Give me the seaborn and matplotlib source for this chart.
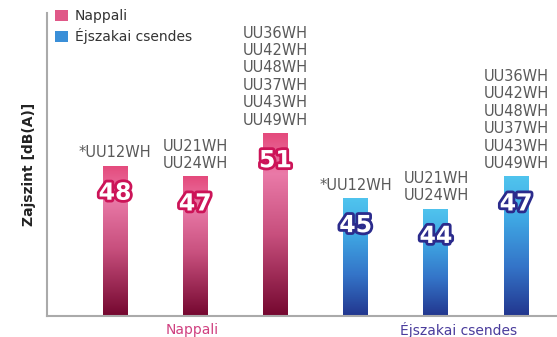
import numpy as np
import pandas as pd
import matplotlib
matplotlib.use("Agg")
import matplotlib.pyplot as plt
import seaborn as sns
from matplotlib.colors import LinearSegmentedColormap
from matplotlib.patches import Patch
import matplotlib.patheffects as pe

groups = ["Nappali", "Nappali", "Nappali", "Éjszakai csendes", "Éjszakai csendes", "Éjszakai csendes"]
values = [48, 47, 51, 45, 44, 47]
models = ["*UU12WH", "UU21WH\nUU24WH", "UU36WH\nUU42WH\nUU48WH\nUU37WH\nUU43WH\nUU49WH",
          "*UU12WH", "UU21WH\nUU24WH", "UU36WH\nUU42WH\nUU48WH\nUU37WH\nUU43WH\nUU49WH"]
positions = ["p1", "p2", "p3", "p4", "p5", "p6"]
group_labels = ["Nappali", "Éjszakai csendes"]
ylabel = "Zajszint [dB(A)]"

df = pd.DataFrame({"pos": positions, "value": values, "group": groups, "model": models})

sns.set_style("white")
plt.rcParams['font.family'] = ['DejaVu Sans']

fig = plt.figure(figsize=(5.57, 3.37), dpi=100)
ax = fig.add_axes([0.0844, 0.0623, 0.9156, 0.8987])

pink_cmap = LinearSegmentedColormap.from_list("pink", [(0, "#e44a7c"), (0.22, "#ea7aa8"), (0.55, "#c8507e"), (1, "#74072f")])
blue_cmap = LinearSegmentedColormap.from_list("blue", [(0, "#50c4ee"), (0.3, "#3fa8e4"), (0.65, "#3474c8"), (1, "#22368e")])
cmaps = {"Nappali": pink_cmap, "Éjszakai csendes": blue_cmap}

sns.barplot(data=df, x="pos", y="value", hue="group", palette={"Nappali": "#e06090", "Éjszakai csendes": "#3a90d8"},
            width=0.31, dodge=False, legend=False, ax=ax)

ymin, ymax = 34.1, 62.1
ax.set_ylim(ymin, ymax)
ax.set_xlim(-0.848, 5.51)

grad = np.linspace(0, 1, 256).reshape(-1, 1)
bars = [p for p in ax.patches if p.get_height() > 0]
bars.sort(key=lambda p: p.get_x())
for i, p in enumerate(bars):
    x0 = p.get_x(); w = p.get_width(); h = p.get_height()
    cmap = cmaps[groups[i]]
    im = ax.imshow(grad, cmap=cmap, aspect="auto", origin="upper", zorder=2,
                   extent=[x0, x0 + w, ymin, p.get_y() + h])
    im.set_clip_path(p)
    p.set_facecolor("none")
    p.set_edgecolor("none")

    stroke = "#cc1458" if groups[i] == "Nappali" else "#2b2b8c"
    ax.text(x0 + w / 2, values[i] - 2.5, str(values[i]), ha="center", va="center", fontsize=17,
            fontweight="bold", color="white", zorder=5,
            path_effects=[pe.withStroke(linewidth=4, foreground=stroke)])
    ax.annotate(models[i], (x0 + w / 2, values[i]), xytext=(0, 4), textcoords="offset points",
                ha="center", va="bottom", fontsize=10.5, color="#5a5a5a", linespacing=1.2, zorder=5)

ax.set_xticks([])
ax.set_yticks([])
ax.set_xlabel("")
ax.set_ylabel(ylabel, fontsize=10, fontweight="bold", color="#222222", labelpad=8)
for s in ["top", "right"]:
    ax.spines[s].set_visible(False)
for s in ["left", "bottom"]:
    ax.spines[s].set_color("#aaaaaa")
    ax.spines[s].set_linewidth(1.5)

fig.text(192 / 557, 1 - 330 / 337, group_labels[0], ha="center", va="center", fontsize=10, color="#d04080")
fig.text(459 / 557, 1 - 330 / 337, group_labels[1], ha="center", va="center", fontsize=10, color="#4a3c9c")

handles = [Patch(facecolor="#e05888", edgecolor="none", label=group_labels[0]),
           Patch(facecolor="#3a8fd8", edgecolor="none", label=group_labels[1])]
leg = ax.legend(handles=handles, loc="upper left", bbox_to_anchor=(0.0, 1.04), frameon=False,
                fontsize=10, handlelength=0.9, handleheight=0.9, handletextpad=0.5, labelspacing=0.35,
                borderaxespad=0.2)
for t in leg.get_texts():
    t.set_color("#333333")

fig.savefig("out.png", dpi=100)
